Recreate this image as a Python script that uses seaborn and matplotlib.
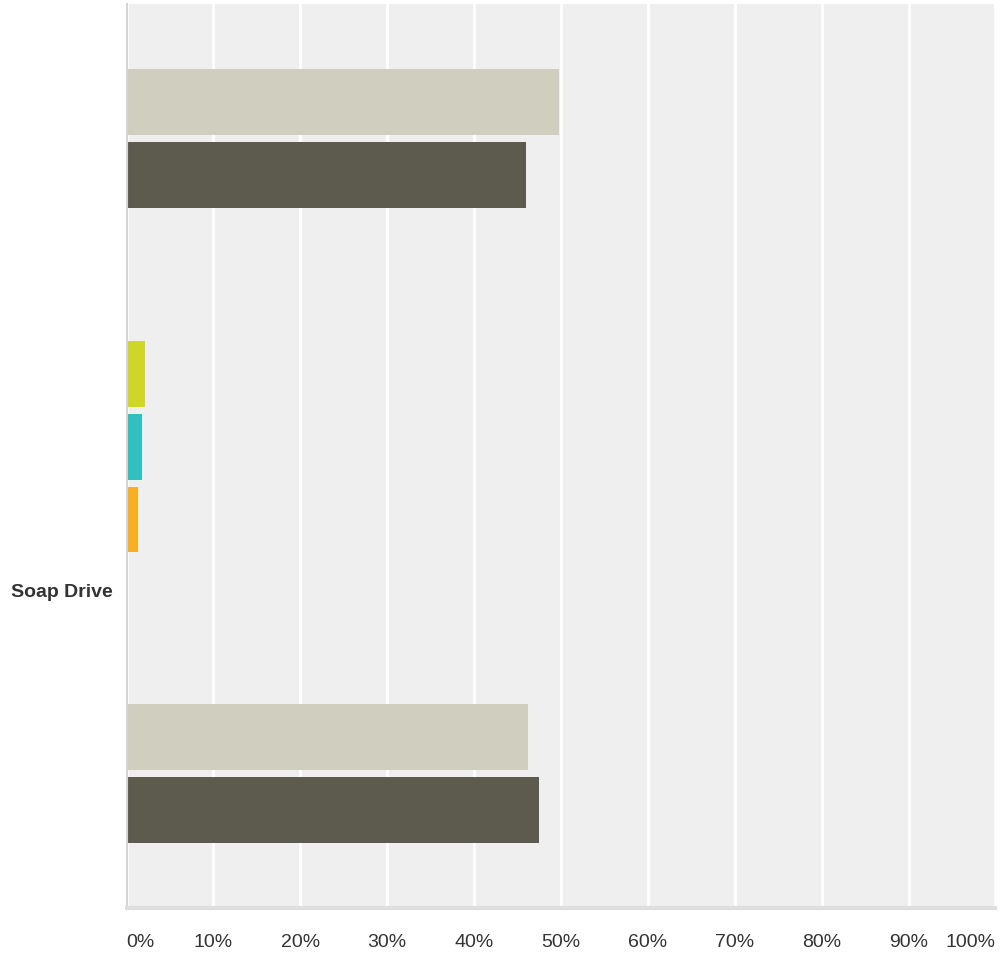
import matplotlib
matplotlib.use('Agg')
import pandas as pd
import matplotlib.pyplot as plt
import seaborn as sns

sns.set_theme(style='white')
plt.rcParams['font.family'] = ['Liberation Sans', 'DejaVu Sans']

# data
series = ['row1', 'row2', 'row3', 'row4', 'row5', 'row6', 'row7']
values = [49.8, 46.0, 2.1, 1.8, 1.3, 46.2, 47.5]
colors = ['#d0cebf', '#5d5b4d', '#d0d52a', '#33bec0', '#f8af22', '#d0cebf', '#5d5b4d']
category = 'Soap Drive'
ticks = list(range(0, 101, 10))
tick_labels = [f'{t}%' for t in ticks]

# vertical layout of the bars (slot centres, top = 4, bottom = 908)
slots = [102.0, 174.7, 374.0, 446.7, 519.4, 737.0, 809.7]
label_pos = 590

df = pd.DataFrame({'pct': values, 'slot': slots, 'series': series})

fig = plt.figure(figsize=(10.01, 9.58), dpi=100)
ax = fig.add_axes([0.1264, 0.0522, 0.868, 0.9436])
ax.set_facecolor('#efefef')

sns.barplot(data=df, x='pct', y='slot', hue='series',
            palette=dict(zip(series, colors)), orient='h',
            native_scale=True, width=0.904, dodge=False,
            saturation=1, legend=False, linewidth=0, ax=ax)

ax.set_xlim(0, 100)
ax.set_ylim(908, 4)
ax.set_xlabel('')
ax.set_ylabel('')

ax.xaxis.grid(True, color='white', lw=2)
ax.yaxis.grid(False)
ax.set_axisbelow(True)

for s in ['top', 'right']:
    ax.spines[s].set_visible(False)
ax.spines['left'].set_color('#d4d4d4')
ax.spines['left'].set_linewidth(1.5)
ax.spines['bottom'].set_color('#dedede')
ax.spines['bottom'].set_linewidth(3)

ax.set_xticks(ticks, tick_labels)
ax.tick_params(axis='x', length=0, pad=19, labelsize=14, labelcolor='#333333')
xl = ax.get_xticklabels()
xl[0].set_ha('left')
xl[-1].set_ha('right')

ax.set_yticks([label_pos], [category])
ax.tick_params(axis='y', length=0, pad=10, labelsize=14, labelcolor='#333333')
for t in ax.get_yticklabels():
    t.set_fontweight('bold')

fig.savefig('out.png', dpi=100)
